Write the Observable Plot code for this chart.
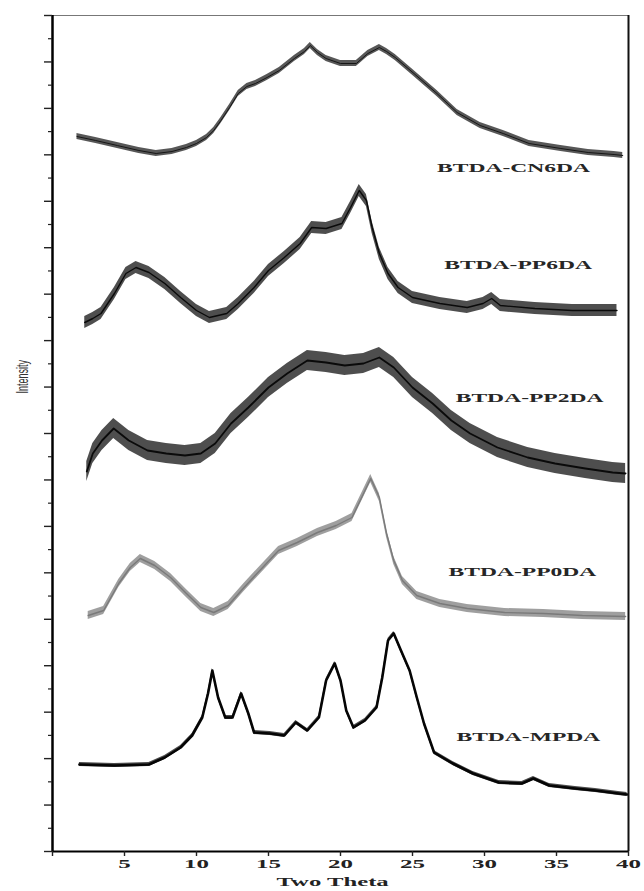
<!DOCTYPE html>
<html><head><meta charset="utf-8">
<script src="https://cdn.jsdelivr.net/npm/d3@7"></script>
<script src="https://cdn.jsdelivr.net/npm/@observablehq/plot@0.6"></script>
<style>body{margin:0;background:#fff}#chart svg{display:block}</style>
</head><body><div id="chart"></div>
<script>
// Two-theta positions (deg) and intensities (arbitrary units, stacked offsets included)
const cn6daTheta = [1.7, 3.0, 4.5, 6.0, 7.2, 8.3, 9.3, 10.0, 10.7, 11.2, 11.7, 12.3, 12.9, 13.5, 14.1, 14.9, 15.75, 16.8, 17.5, 17.9, 18.4, 19.0, 20.0, 21.1, 21.9, 22.7, 23.2, 23.8, 25.1, 26.7, 28.1, 29.7, 31.3, 33.1, 35.3, 37.2, 39.0, 39.6];
const cn6daI     = [715, 711, 706, 701, 698, 700, 704, 708, 714, 721, 731, 744, 758, 765, 768, 774, 781, 793, 800, 806, 799, 793, 788, 788, 798, 804, 800, 794, 778, 758, 739, 726, 718, 708, 703, 699, 697, 696];

const pp6daTheta = [2.24, 2.8, 3.37, 4.3, 5.1, 5.8, 6.7, 7.8, 8.9, 10.0, 10.9, 12.1, 12.9, 14.0, 15.0, 16.1, 17.2, 18.0, 19.0, 20.1, 20.7, 21.3, 21.8, 22.2, 22.7, 23.3, 24.0, 25.0, 26.9, 28.8, 29.9, 30.5, 31.1, 33.5, 36.1, 38.7, 39.2];
const pp6daI     = [529, 533, 538, 558, 578, 584, 579, 568, 554, 541, 534, 538, 548, 564, 581, 594, 608, 624, 623, 628, 644, 661, 651, 624, 598, 578, 564, 554, 548, 544, 548, 553, 546, 543, 541, 541, 541];

const pp2daTheta = [2.38, 2.8, 3.44, 4.25, 5.3, 6.6, 7.9, 9.2, 10.3, 11.3, 12.4, 13.6, 15.0, 16.3, 17.7, 19.0, 20.3, 21.6, 22.7, 23.7, 25.0, 26.4, 27.7, 29.0, 30.9, 33.0, 34.9, 37.0, 38.9, 39.8];
const pp2daI     = [380, 398, 411, 423, 411, 401, 398, 396, 398, 408, 428, 444, 464, 478, 491, 489, 486, 488, 494, 484, 464, 448, 431, 418, 404, 394, 388, 383, 379, 378];

const pp0daTheta = [2.48, 3.55, 4.6, 5.4, 6.1, 7.1, 8.2, 9.3, 10.3, 11.2, 12.2, 13.3, 14.4, 15.7, 17.0, 18.4, 19.7, 20.8, 21.6, 22.1, 22.7, 23.2, 23.7, 24.3, 25.3, 26.9, 28.8, 31.4, 34.1, 36.8, 39.8];
const pp0daI     = [236, 241, 268, 284, 293, 286, 274, 258, 244, 239, 246, 264, 281, 301, 309, 319, 326, 334, 358, 373, 354, 318, 291, 271, 256, 248, 243, 239, 238, 236, 235];

const mpdaTheta = [1.87, 4.3, 6.7, 7.8, 8.9, 9.7, 10.4, 10.8, 11.1, 11.5, 12.0, 12.5, 13.1, 13.6, 14.0, 15.1, 16.1, 16.9, 17.7, 18.5, 19.0, 19.6, 20.0, 20.4, 20.9, 21.7, 22.5, 22.9, 23.3, 23.7, 24.2, 24.8, 25.3, 25.8, 26.5, 27.8, 29.2, 31.0, 32.6, 33.4, 34.5, 36.3, 37.7, 39.3, 39.9];
const mpdaI     = [87, 86, 87, 94, 104, 116, 134, 158, 181, 154, 134, 134, 158, 138, 119, 118, 116, 129, 121, 134, 171, 188, 171, 141, 124, 131, 144, 174, 211, 218, 201, 181, 154, 128, 99, 88, 78, 69, 68, 73, 66, 63, 61, 58, 57];

const seriesNames = ["BTDA-CN6DA", "BTDA-PP6DA", "BTDA-PP2DA", "BTDA-PP0DA", "BTDA-MPDA"];
const labelTheta = [26.7, 27.2, 28.0, 27.5, 28.05];
const labelI     = [683, 586, 453, 279, 114];
const xTicks = [0, 5, 10, 15, 20, 25, 30, 35, 40];
const yMax = 836;
const yTickCount = 36;

const series = [
  {name: seriesNames[0], theta: cn6daTheta, I: cn6daI, color: "#161616", noise: 3,  sw: 1},
  {name: seriesNames[1], theta: pp6daTheta, I: pp6daI, color: "#0a0a0a", noise: 6,  sw: 1.4},
  {name: seriesNames[2], theta: pp2daTheta, I: pp2daI, color: "#0a0a0a", noise: 10, sw: 1.8},
  {name: seriesNames[3], theta: pp0daTheta, I: pp0daI, color: "#7a7a7a", noise: 4,  sw: 1.4},
  {name: seriesNames[4], theta: mpdaTheta,  I: mpdaI,  color: "#050505", noise: 2,  sw: 2.6}
];

const yTicks = d3.range(yTickCount + 1).map(k => k * yMax / yTickCount);
const yLong = yTicks.filter((d, k) => k % 2 === 0);
const yShort = yTicks.filter((d, k) => k % 2 === 1);

const marks = [];
for (const s of series) {
  const rows = s.theta.map((t, i) => ({t, v: s.I[i], lo: s.I[i] - s.noise, hi: s.I[i] + s.noise}));
  marks.push(Plot.areaY(rows, {x: "t", y1: "lo", y2: "hi", fill: s.color, fillOpacity: 0.72, curve: "linear"}));
  marks.push(Plot.lineY(rows, {x: "t", y: "v", stroke: s.color, strokeWidth: s.sw, curve: "linear"}));
}
const labels = seriesNames.map((n, i) => ({n, t: labelTheta[i], v: labelI[i]}));

marks.push(
  Plot.ruleY([yMax], {stroke: "#777", strokeWidth: 1.2}),
  Plot.ruleX([40], {stroke: "#111", strokeWidth: 2}),
  Plot.ruleX([0], {stroke: "#000", strokeWidth: 2.5}),
  Plot.ruleY([0], {stroke: "#000", strokeWidth: 2}),
  Plot.axisY(yLong, {tickSize: 8, tickFormat: () => "", label: null, stroke: "#222", strokeWidth: 1.4}),
  Plot.axisY(yShort, {tickSize: 4, tickFormat: () => "", label: null, stroke: "#222", strokeWidth: 1.2}),
  Plot.axisX(xTicks, {tickSize: 5, tickPadding: 2, tickFormat: d => d === 0 ? "" : String(d), label: null,
    fontSize: 13.5, fontWeight: "bold", fontFamily: "Liberation Serif", fill: "#222", stroke: "#222", strokeWidth: 1.4}),
  Plot.text(labels, {x: "t", y: "v", text: "n", textAnchor: "start", fontSize: 11.5, fontWeight: "bold",
    fontFamily: "Liberation Serif", fill: "#262626"}),
  Plot.text([{t: 19.45, s: "Two Theta"}], {x: "t", text: "s", frameAnchor: "bottom", dy: 34, fontSize: 13, fontWeight: "bold",
    fontFamily: "Liberation Serif", fill: "#222"}),
  Plot.text(["Intensity"], {frameAnchor: "left", dx: -30, dy: -40, rotate: -90, fontSize: 9,
    fontFamily: "Liberation Sans", fill: "#333"})
);

const chart = Plot.plot({
  width: 644, height: 891,
  marginLeft: 52, marginRight: 16, marginTop: 15, marginBottom: 40,
  x: {domain: [0, 40], label: null},
  y: {domain: [0, yMax], label: null},
  style: {background: "#fff"},
  marks
});
document.getElementById("chart").append(chart);

// horizontally stretched lettering, as in the reference scan
function stretch(group, sx, sy) {
  if (!group) return;
  group.querySelectorAll("text").forEach(el => {
    let tr = el.getAttribute("transform");
    if (!tr) {
      const x = el.getAttribute("x") || 0, y = el.getAttribute("y") || 0;
      el.removeAttribute("x"); el.removeAttribute("y");
      tr = `translate(${x},${y})`;
    }
    el.setAttribute("transform", tr + ` scale(${sx},${sy})`);
  });
}
const textGroups = chart.querySelectorAll('g[aria-label="text"]');
stretch(textGroups[0], 2.05, 1);
stretch(textGroups[1], 1.9, 1);
stretch(textGroups[2], 1, 1.8);
stretch(chart.querySelector('g[aria-label="x-axis tick label"]'), 1.85, 1);
</script></body></html>
